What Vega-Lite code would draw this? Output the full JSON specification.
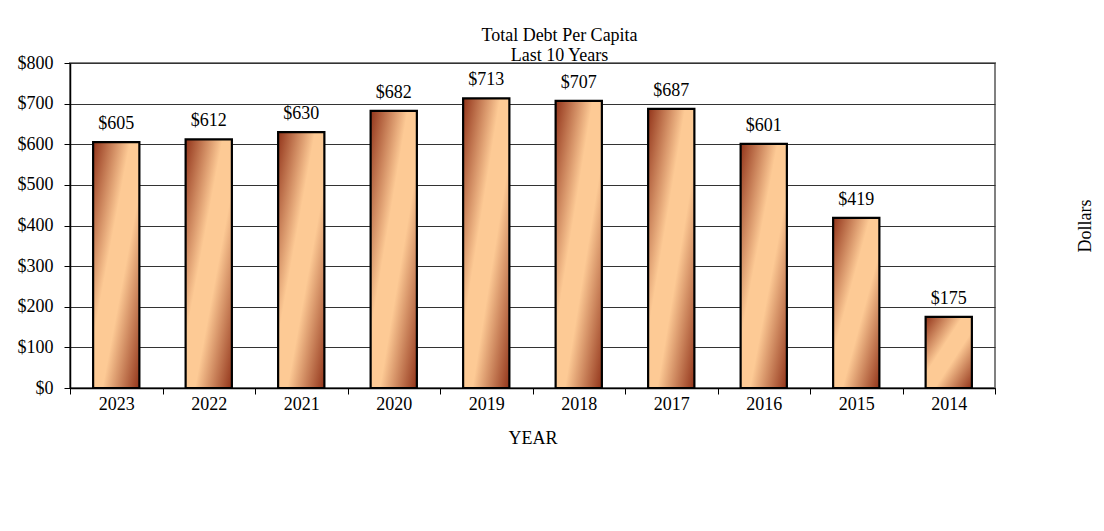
{
  "$schema": "https://vega.github.io/schema/vega-lite/v6.json",
  "width": 925,
  "height": 325,
  "autosize": "none",
  "padding": {"left": 70, "top": 63, "right": 109, "bottom": 143},
  "background": "white",
  "config": {
    "font": "Liberation Serif",
    "view": {"stroke": "#808080", "strokeWidth": 2}
  },
  "title": {
    "text": ["Total Debt Per Capita", "Last 10 Years"],
    "fontSize": 18,
    "fontWeight": "normal",
    "color": "black",
    "anchor": "middle",
    "dx": 27,
    "offset": -11,
    "lineHeight": 20
  },
  "data": {
    "values": [
      {"year": "2023", "debt": 605},
      {"year": "2022", "debt": 612},
      {"year": "2021", "debt": 630},
      {"year": "2020", "debt": 682},
      {"year": "2019", "debt": 713},
      {"year": "2018", "debt": 707},
      {"year": "2017", "debt": 687},
      {"year": "2016", "debt": 601},
      {"year": "2015", "debt": 419},
      {"year": "2014", "debt": 175}
    ]
  },
  "encoding": {
    "x": {
      "field": "year",
      "type": "ordinal",
      "sort": null,
      "scale": {"paddingInner": 0, "paddingOuter": 0},
      "axis": {
        "title": "YEAR",
        "titleFontSize": 18,
        "titleFontWeight": "normal",
        "titleColor": "black",
        "titlePadding": 16,
        "labelAngle": 0,
        "labelFontSize": 18,
        "labelColor": "black",
        "labelPadding": 1,
        "tickBand": "extent",
        "tickSize": 6,
        "tickColor": "black",
        "domainColor": "black",
        "domainWidth": 1.5
      }
    }
  },
  "layer": [
    {
      "mark": {
        "type": "bar",
        "width": {"band": 0.5},
        "fill": {
          "gradient": "linear",
          "x1": 0, "y1": 0, "x2": 1, "y2": 1,
          "stops": [
            {"offset": 0, "color": "#92341a"},
            {"offset": 0.4, "color": "#fdca95"},
            {"offset": 0.6, "color": "#fdca95"},
            {"offset": 1, "color": "#92341a"}
          ]
        },
        "stroke": "black",
        "strokeWidth": 2.2
      },
      "encoding": {
        "y": {
          "field": "debt",
          "type": "quantitative",
          "scale": {"domain": [0, 800]},
          "axis": {
            "title": null,
            "values": [0, 100, 200, 300, 400, 500, 600, 700, 800],
            "format": "$,.0f",
            "labelFontSize": 18,
            "labelColor": "black",
            "labelPadding": 11,
            "grid": true,
            "gridColor": "#333333",
            "gridWidth": 1,
            "tickSize": 6,
            "tickColor": "black",
            "domainColor": "black",
            "domainWidth": 1.5
          }
        }
      }
    },
    {
      "mark": {"type": "text", "dy": -13, "baseline": "alphabetic", "fontSize": 18, "color": "black"},
      "encoding": {
        "y": {
          "field": "debt",
          "type": "quantitative",
          "axis": {
            "orient": "right",
            "title": "Dollars",
            "titleAngle": 270,
            "titleFontSize": 18,
            "titleFontWeight": "normal",
            "titleColor": "black",
            "titlePadding": 99,
            "labels": false,
            "ticks": false,
            "domain": false,
            "grid": false
          }
        },
        "text": {"field": "debt", "type": "quantitative", "format": "$,.0f"}
      }
    }
  ],
  "resolve": {"axis": {"y": "independent"}}
}
